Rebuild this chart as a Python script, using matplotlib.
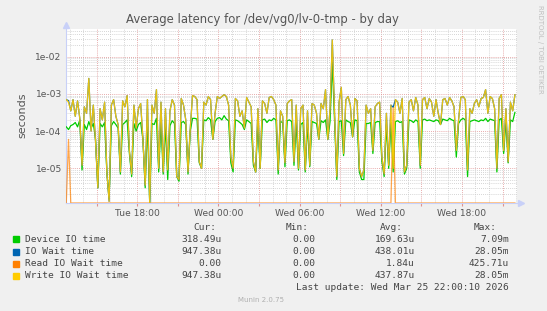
import matplotlib
matplotlib.use("Agg")
import matplotlib.pyplot as plt
from matplotlib.ticker import MultipleLocator, LogLocator, FuncFormatter, NullFormatter
from matplotlib.patches import Rectangle
import numpy as np

# sample times: hours since Tue 00:00, one sample every 10 minutes
t_start = 12.75
t_step = 1 / 6

# latencies in microseconds
write_us = [
    700, 600, 350, 700, 250, 650, 220, 12, 450, 300,
    2600, 100, 500, 50, 3, 400, 200, 600, 8, 1.3,
    500, 700, 250, 150, 8, 650, 450, 900, 30, 7,
    500, 120, 400, 550, 60, 3.5, 700, 1.2, 500, 300,
    1300, 10, 600, 8, 400, 9, 350, 700, 500, 6,
    5, 750, 500, 200, 8, 120, 900, 850, 700, 15,
    10, 600, 500, 850, 700, 60, 300, 850, 750, 850,
    950, 850, 500, 20, 10, 750, 650, 250, 350, 120,
    800, 600, 450, 15, 8, 400, 10, 650, 550, 300,
    800, 850, 700, 500, 9, 350, 250, 14, 550, 650,
    700, 15, 500, 10, 400, 500, 9, 350, 12, 550,
    500, 300, 60, 550, 400, 1300, 60, 400, 28050, 300,
    6, 600, 1500, 25, 700, 850, 500, 70, 750, 650,
    10, 6, 9, 500, 300, 400, 30, 450, 550, 600,
    20, 7, 300, 12, 500, 10, 700, 600, 300, 750,
    8, 12, 600, 700, 350, 800, 500, 12, 700, 800,
    400, 750, 600, 250, 700, 300, 150, 700, 750, 500,
    800, 650, 450, 30, 200, 800, 850, 700, 9, 400,
    300, 550, 700, 450, 750, 800, 1300, 300, 850, 750,
    400, 10, 750, 950, 30, 400, 15, 600, 350, 947.38,
]

device_us = [
    130, 110, 140, 150, 170, 130, 200, 9, 150, 110,
    180, 120, 160, 60, 3, 160, 130, 170, 8, 1.5,
    140, 180, 150, 120, 7, 150, 170, 200, 25, 6,
    160, 100, 150, 170, 60, 3, 190, 1.2, 160, 150,
    220, 8, 170, 7, 150, 5, 140, 190, 160, 6,
    4.5, 170, 180, 150, 7, 100, 220, 220, 210, 14,
    10, 200, 190, 230, 200, 60, 180, 220, 230, 200,
    260, 210, 190, 14, 8, 200, 190, 170, 150, 110,
    200, 180, 160, 12, 8, 170, 10, 200, 210, 170,
    200, 190, 220, 200, 7, 180, 170, 11, 190, 200,
    180, 12, 170, 9, 150, 170, 8, 160, 11, 180,
    170, 160, 60, 190, 170, 200, 60, 180, 7090, 200,
    5, 180, 190, 22, 200, 180, 170, 70, 200, 190,
    8, 5, 5, 160, 160, 170, 25, 170, 180, 180,
    15, 6, 150, 10, 170, 8, 180, 190, 170, 180,
    7, 10, 200, 190, 170, 200, 180, 10, 200, 210,
    190, 200, 190, 180, 200, 190, 150, 210, 200, 190,
    220, 200, 190, 20, 160, 200, 220, 200, 6, 180,
    190, 200, 190, 180, 200, 190, 220, 180, 210, 200,
    190, 8, 200, 220, 25, 190, 14, 200, 180, 318.49,
]

read_us = [0] * 200
read_us[1] = 60
read_us[145] = 425.71

# IO wait is read wait + write wait
iowait_us = [r + w for r, w in zip(read_us, write_us)]

series_names = ["Device IO time", "IO Wait time", "Read IO Wait time", "Write IO Wait time"]
series_colors = ["#00CC00", "#0066B3", "#FF8000", "#FFCC00"]
series_alpha = [1.0, 1.0, 0.7, 0.9]
cur_vals = ["318.49u", "947.38u", "0.00", "947.38u"]
min_vals = ["0.00", "0.00", "0.00", "0.00"]
avg_vals = ["169.63u", "438.01u", "1.84u", "437.87u"]
max_vals = ["7.09m", "28.05m", "425.71u", "28.05m"]

day_names = {0: "Tue", 1: "Wed", 2: "Thu"}

W, H = 547, 311
fig = plt.figure(figsize=(W / 100, H / 100), dpi=100, facecolor="#F0F0F0")
ax = fig.add_axes([66 / W, 1 - 203 / H, (517 - 66) / W, (203 - 28.5) / H])
ax.set_facecolor("white")

t = t_start + t_step * np.arange(len(write_us))
ymin, ymax = 1.17e-6, 0.057

all_series = [device_us, iowait_us, read_us, write_us]
for vals, col, a in zip(all_series, series_colors, series_alpha):
    v = np.array(vals, dtype=float) / 1e6
    v = np.clip(v, ymin, None)  # rrdtool puts zero values on the bottom edge
    ax.plot(t, v, color=col, lw=0.9, alpha=a, zorder=3)

ax.set_yscale("log")
ax.set_ylim(ymin, ymax)
ax.set_xlim(12.73, 46.07)

ax.yaxis.set_major_locator(LogLocator(base=10, numticks=10))
ax.yaxis.set_minor_locator(LogLocator(base=10, subs=np.arange(2, 10), numticks=20))
ax.yaxis.set_major_formatter(FuncFormatter(lambda v, p: f"{v:.0e}"))
ax.yaxis.set_minor_formatter(NullFormatter())

ax.xaxis.set_major_locator(MultipleLocator(3))
ax.xaxis.set_minor_locator(MultipleLocator(1))


def hour_label(v, p):
    h = int(round(v))
    if h % 6:
        return ""
    return f"{day_names[h // 24]} {h % 24:02d}:00"


ax.xaxis.set_major_formatter(FuncFormatter(hour_label))

ax.grid(which="minor", color="#C8C8C8", linestyle=(0, (1, 1.5)), lw=0.6)
ax.grid(which="major", color="#E09090", linestyle=(0, (1, 1.5)), lw=0.6)
ax.set_axisbelow(True)

ax.tick_params(axis="both", which="both", length=0, labelsize=6.6, colors="#555555")
ax.tick_params(axis="x", which="major", length=2, color="#E09090", pad=2.5)
ax.tick_params(axis="y", pad=3)

for s in ["top", "right"]:
    ax.spines[s].set_visible(False)
ax.spines["left"].set_color("#C8D0F8")
ax.spines["bottom"].set_color("#C8D0F8")
ax.spines["left"].set_linewidth(0.8)
ax.spines["bottom"].set_linewidth(0.8)
ax.plot([0], [1.02], marker="^", color="#C8D0F8", ms=4, transform=ax.transAxes, clip_on=False)
ax.plot([1.008], [0], marker=">", color="#C8D0F8", ms=4, transform=ax.transAxes, clip_on=False)

ax.set_ylabel("seconds", fontsize=8, color="#555555", labelpad=6)
fig.text(262 / W, 1 - 19.5 / H, "Average latency for /dev/vg0/lv-0-tmp - by day",
         ha="center", va="center", fontsize=8.4, color="#555555")
fig.text(540 / W, 1 - 5 / H, "RRDTOOL / TOBI OETIKER", rotation=270,
         ha="center", va="top", fontsize=5, color="#C0C0C0")

# legend table under the graph
mono = dict(family="DejaVu Sans Mono", fontsize=6.8, color="#444444", va="center")
fy = lambda y: 1 - y / H
fx = lambda x: x / W
for txt, x in zip(["Cur:", "Min:", "Avg:", "Max:"], [216, 309, 403, 497]):
    fig.text(fx(x), fy(227.7), txt, ha="right", **mono)
rows_y = [239.3, 251.5, 263.6, 275.7]
for i, name in enumerate(series_names):
    y = rows_y[i]
    fig.patches.append(Rectangle((fx(13.3), fy(y + 3)), 6 / W, 6 / H,
                                 transform=fig.transFigure, color=series_colors[i]))
    fig.text(fx(25), fy(y), name, ha="left", **mono)
    for vals, x in zip([cur_vals, min_vals, avg_vals, max_vals], [221.7, 315, 415, 509]):
        fig.text(fx(x), fy(y), vals[i], ha="right", **mono)
fig.text(fx(509), fy(287.5), "Last update: Wed Mar 25 22:00:10 2026", ha="right", **mono)
fig.text(fx(261), fy(300.5), "Munin 2.0.75", ha="center", va="center", fontsize=5, color="#B0B0B0")

fig.savefig("out.png", dpi=100, facecolor=fig.get_facecolor())
